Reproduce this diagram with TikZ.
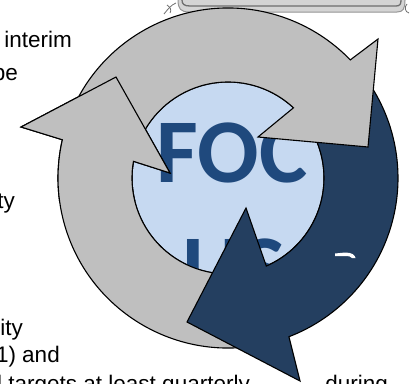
\documentclass[tikz,border=0pt]{standalone}
\usepackage{fontspec}
\setmainfont{Liberation Sans}
\newfontfamily\calib{Carlito}
\usepackage{tikz}

\definecolor{ringgray}{HTML}{BFBFBF}
\definecolor{ringnavy}{HTML}{243F60}
\definecolor{corefill}{HTML}{C6D9F1}
\definecolor{coretext}{HTML}{1F497D}
\definecolor{framedark}{HTML}{6E6E6E}
\definecolor{framelight}{HTML}{D4D4D4}

\newcommand{\grayleft}{([shift={(228,-178)}]285:170) arc[start angle=285, end angle=167, radius=170]
    -- (21,-127) -- (116,-77) -- (170,-173)
    -- ([shift={(228,-178)}]170:96) arc[start angle=170, end angle=285, radius=96] -- cycle}

\begin{document}
\begin{tikzpicture}[x=1pt, y=1pt,
    body/.style={inner sep=0pt, anchor=base east, font=\fontsize{22.5}{27}\selectfont},
    big/.style={inner sep=0pt, anchor=base, text=coretext, font=\calib\bfseries\fontsize{91}{110}\selectfont},
    arrowpart/.style={draw=black, line width=1.1pt, line join=miter}]
    \useasboundingbox (0,0) rectangle (411,-383);
    \clip (0,0) rectangle (411,-383);

    \node[body] (interim) at (72,-47) {interim};
    \node[body] (be) at (18,-80) {be};
    \node[body] (ty) at (15,-208) {ty};
    \node[body] (rity) at (23,-335) {rity};
    \node[body] (oneand) at (60,-362) {1) and};
    \node[body] (targets) at (250,-391) {l targets at least quarterly};
    \node[body] (during) at (388,-391) {during};

    \fill[framelight] (178,0) .. controls (178,-9) and (181,-12) .. (189,-12) -- (397,-12)
        .. controls (403,-12) and (405,-9) .. (405,0) -- cycle;
    \draw[framelight!70!black, line width=1pt] (178,0) .. controls (178,-9) and (181,-12) .. (189,-12) -- (397,-12)
        .. controls (403,-12) and (405,-9) .. (405,0);
    \draw[framedark, line width=1.3pt] (182,0) .. controls (182,-4) and (184,-6) .. (190,-6) -- (396,-6)
        .. controls (400,-6) and (401,-4) .. (401,0);
    \draw[framedark, line width=0.8pt] (164,-14) .. controls (168,-9) and (171,-5) .. (176,-3);
    \draw[framedark, line width=0.8pt] (167,-5) .. controls (170,-7) and (172,-10) .. (170,-13);
    \draw[framedark, line width=0.8pt] (407,-4) .. controls (404,-7) and (405,-12) .. (409,-13);

    \node (core) [circle, draw=black, line width=1.1pt, fill=corefill, minimum size=192pt, inner sep=0pt] at (228,-178) {};
    \node[big] (foc) at (232,-182) {FOC};
    \node[big] (us) at (234,-298) {US};

    \path[arrowpart, fill=ringgray] \grayleft;
    \path[arrowpart, fill=ringnavy] ([shift={(228,-178)}]40:170) arc[start angle=40, end angle=-69, radius=170]
        -- (300,-381) -- (187,-322) -- (246,-208)
        -- ([shift={(228,-178)}]-66.5:96) arc[start angle=-66.5, end angle=40, radius=96] -- cycle;
    \path[arrowpart, fill=ringgray] ([shift={(228,-178)}]160:170) arc[start angle=160, end angle=44, radius=170]
        -- (378,-39) -- (368,-147) -- (258,-137)
        -- ([shift={(228,-178)}]47:96) arc[start angle=47, end angle=160, radius=96] -- cycle;
    \begin{scope}
        \clip (0,0) rectangle (200,-200);
        \path[arrowpart, fill=ringgray] \grayleft;
    \end{scope}

    \fill[white] (335,-253.5) -- (345,-252.5) .. controls (352,-252.5) and (355,-255) .. (355.5,-258)
        -- (352,-258) .. controls (351,-256.5) and (349,-256) .. (345,-256) -- (335,-256) -- cycle;
\end{tikzpicture}
\end{document}
